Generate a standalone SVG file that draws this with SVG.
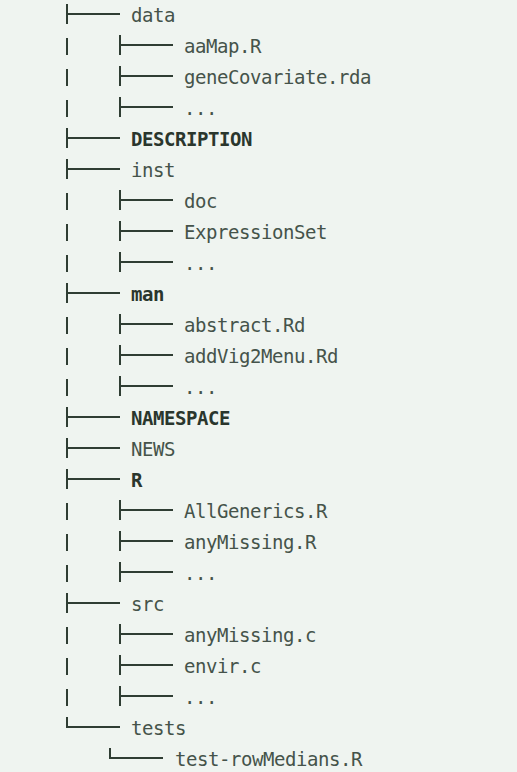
<svg xmlns="http://www.w3.org/2000/svg" width="517" height="772" viewBox="0 0 517 772">
<style>
.bg{fill:#eff4f0}
.ln{fill:none;stroke:#2f3d33;stroke-width:2}
.t{font-family:"DejaVu Sans Mono","Liberation Mono",monospace;font-size:19px;letter-spacing:-0.44px;fill:#45534a}
.b{font-weight:bold;fill:#2a362d}
</style>
<rect class="bg" x="0" y="0" width="517" height="772"/>
<g id="connectors">
<path class="ln" d="M67 4V24M67 14H120 M67 128V148M67 138H120 M67 159V179M67 169H120 M67 283V303M67 293H120 M67 407V427M67 417H120 M67 438V458M67 448H120 M67 469V489M67 479H120 M67 593V613M67 603H120"/>
<path class="ln" d="M67 717V727H120"/>
<path class="ln" d="M67 38V55M67 69V86M67 100V117M67 193V210M67 224V241M67 255V272M67 317V334M67 348V365M67 379V396M67 503V520M67 534V551M67 565V582M67 627V644M67 658V675M67 689V706"/>
<path class="ln" d="M120 35V55M120 45H173 M120 66V86M120 76H173 M120 97V117M120 107H173 M120 190V210M120 200H173 M120 221V241M120 231H173 M120 252V272M120 262H173 M120 314V334M120 324H173 M120 345V365M120 355H173 M120 376V396M120 386H173 M120 500V520M120 510H173 M120 531V551M120 541H173 M120 562V582M120 572H173 M120 624V644M120 634H173 M120 655V675M120 665H173 M120 686V706M120 696H173"/>
<path class="ln" d="M110 748V758H163"/>
</g>
<g id="n-data"><text class="t" x="131" y="22">data</text></g>
<g id="n-aaMap"><text class="t" x="184" y="53">aaMap.R</text></g>
<g id="n-geneCovariate"><text class="t" x="184" y="84">geneCovariate.rda</text></g>
<g id="n-data-more"><text class="t" x="184" y="115">...</text></g>
<g id="n-description"><text class="t b" x="131" y="146">DESCRIPTION</text></g>
<g id="n-inst"><text class="t" x="131" y="177">inst</text></g>
<g id="n-doc"><text class="t" x="184" y="208">doc</text></g>
<g id="n-expressionset"><text class="t" x="184" y="239">ExpressionSet</text></g>
<g id="n-inst-more"><text class="t" x="184" y="270">...</text></g>
<g id="n-man"><text class="t b" x="131" y="301">man</text></g>
<g id="n-abstract"><text class="t" x="184" y="332">abstract.Rd</text></g>
<g id="n-addvig"><text class="t" x="184" y="363">addVig2Menu.Rd</text></g>
<g id="n-man-more"><text class="t" x="184" y="394">...</text></g>
<g id="n-namespace"><text class="t b" x="131" y="425">NAMESPACE</text></g>
<g id="n-news"><text class="t" x="131" y="456">NEWS</text></g>
<g id="n-r"><text class="t b" x="131" y="487">R</text></g>
<g id="n-allgenerics"><text class="t" x="184" y="518">AllGenerics.R</text></g>
<g id="n-anymissing-r"><text class="t" x="184" y="549">anyMissing.R</text></g>
<g id="n-r-more"><text class="t" x="184" y="580">...</text></g>
<g id="n-src"><text class="t" x="131" y="611">src</text></g>
<g id="n-anymissing-c"><text class="t" x="184" y="642">anyMissing.c</text></g>
<g id="n-envir"><text class="t" x="184" y="673">envir.c</text></g>
<g id="n-src-more"><text class="t" x="184" y="704">...</text></g>
<g id="n-tests"><text class="t" x="131" y="735">tests</text></g>
<g id="n-test-rowmedians"><text class="t" x="175" y="766">test-rowMedians.R</text></g>
</svg>
